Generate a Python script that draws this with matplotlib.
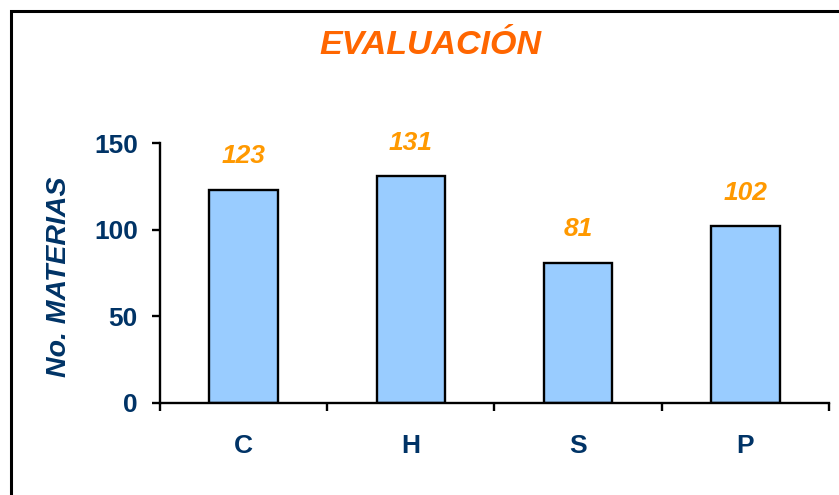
import numpy as np
import matplotlib.pyplot as plt
from matplotlib.patches import Rectangle

categories = ['C', 'H', 'S', 'P']
values = [123, 131, 81, 102]

navy = '#003366'
plt.rcParams['font.family'] = ['Liberation Sans', 'DejaVu Sans']

fig = plt.figure(figsize=(8.39, 4.95), dpi=100)
ax = fig.add_axes([0.1907, 0.1859, 0.988 - 0.1907, 0.7111 - 0.1859])

x = np.arange(len(categories))
bars = ax.bar(x, values, width=0.41, color='#99CCFF', edgecolor='black', linewidth=1.7)

for xi, v in zip(x, values):
    ax.annotate(str(v), (xi, v), xytext=(0, 24), textcoords='offset points',
                ha='center', va='center', fontsize=19, fontweight='bold',
                fontstyle='italic', color='#FF9900')

ax.set_xlim(-0.5, len(categories) - 0.5)
ax.set_ylim(0, 150)
ax.set_yticks([0, 50, 100, 150])
ax.set_xticks(x)
ax.set_xticklabels(categories)
ax.set_xticks(np.arange(-0.5, len(categories)), minor=True)

for s in ['top', 'right']:
    ax.spines[s].set_visible(False)
for s in ['left', 'bottom']:
    ax.spines[s].set_linewidth(1.7)

ax.tick_params(axis='y', direction='out', length=6, width=1.7, pad=10,
               labelsize=19, labelcolor=navy)
ax.tick_params(axis='x', which='major', length=0, pad=22, labelsize=19, labelcolor=navy)
ax.tick_params(axis='x', which='minor', direction='out', length=6, width=1.7)
for lab in ax.get_xticklabels() + ax.get_yticklabels():
    lab.set_fontweight('bold')

fig.text(59 / 839, 1 - 277 / 495, 'No. MATERIAS', rotation=90,
         ha='center', va='center', fontsize=20.5, fontweight='bold',
         fontstyle='italic', color=navy)

fig.text(430 / 839, 1 - 45 / 495, 'EVALUACIÓN', ha='center', va='center',
         fontsize=24.5, fontweight='bold', fontstyle='italic', color='#FF6600')

# outer frame (only left and top edges are inside the image)
fig.patches.append(Rectangle((11 / 839, -0.1), 1.2, 1 - 11 / 495 + 0.1,
                             transform=fig.transFigure, fill=False,
                             edgecolor='black', linewidth=2.2))

fig.savefig('out.png', dpi=100)
